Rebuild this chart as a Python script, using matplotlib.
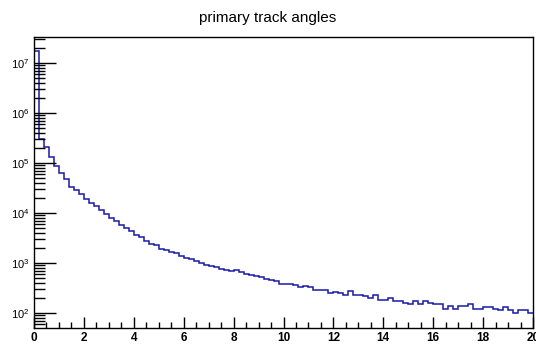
import numpy as np
import matplotlib
matplotlib.use("Agg")
import matplotlib.pyplot as plt
from matplotlib.ticker import LogLocator, MultipleLocator, NullFormatter, LogFormatterMathtext

plt.rcParams['font.family'] = ['Liberation Sans', 'DejaVu Sans']
plt.rcParams['mathtext.fontset'] = 'custom'
plt.rcParams['mathtext.rm'] = 'Liberation Sans'
plt.rcParams['mathtext.bf'] = 'Liberation Sans:bold'

title = "primary track angles"
x_min, x_max, n_bins = 0.0, 20.0, 100

# log10 of bin contents (100 bins of width 0.2)
log_counts = [
    7.23, 5.48, 5.31, 5.12, 4.95, 4.80, 4.67, 4.53, 4.45, 4.39,
    4.29, 4.21, 4.13, 4.06, 3.97, 3.91, 3.83, 3.76, 3.69, 3.64,
    3.56, 3.51, 3.43, 3.38, 3.35, 3.28, 3.26, 3.23, 3.19, 3.13,
    3.11, 3.07, 3.05, 3.01, 2.97, 2.95, 2.91, 2.89, 2.86, 2.84,
    2.85, 2.81, 2.78, 2.76, 2.74, 2.71, 2.68, 2.65, 2.63, 2.59,
    2.59, 2.59, 2.56, 2.51, 2.54, 2.51, 2.47, 2.47, 2.46, 2.41,
    2.43, 2.41, 2.36, 2.44, 2.35, 2.35, 2.33, 2.29, 2.35, 2.25,
    2.25, 2.29, 2.24, 2.23, 2.19, 2.17, 2.23, 2.17, 2.23, 2.19,
    2.17, 2.17, 2.09, 2.15, 2.08, 2.13, 2.15, 2.17, 2.08, 2.08,
    2.11, 2.11, 2.09, 2.06, 2.11, 2.06, 2.01, 2.06, 2.06, 2.01,
]
counts = np.round(10 ** np.array(log_counts))
edges = np.linspace(x_min, x_max, n_bins + 1)

fig = plt.figure(figsize=(5.36, 3.47), dpi=100)
ax = fig.add_axes([34/536, 1 - 328/347, (533-34)/536, (328-37)/347])

ax.stairs(counts, edges, baseline=None, color=(0.1, 0.1, 0.66), linewidth=1.1)

ax.set_yscale('log')
ax.set_xlim(x_min, x_max)
ax.set_ylim(10**1.7, 10**7.52)

ax.xaxis.set_major_locator(MultipleLocator(2))
ax.xaxis.set_minor_locator(MultipleLocator(0.5))
ax.yaxis.set_major_locator(LogLocator(base=10, numticks=20))
ax.yaxis.set_minor_locator(LogLocator(base=10, subs=np.arange(2, 10), numticks=20))
ax.yaxis.set_major_formatter(LogFormatterMathtext())
ax.yaxis.set_minor_formatter(NullFormatter())

ax.tick_params(axis='both', which='both', direction='in', top=False, right=False,
               width=1.0, color='black')
ax.tick_params(axis='y', which='major', length=16, labelsize=8, pad=3)
ax.tick_params(axis='y', which='minor', length=8)
ax.tick_params(axis='x', which='major', length=8, labelsize=8.5, pad=3)
ax.tick_params(axis='x', which='minor', length=4)
for lbl in ax.get_xticklabels():
    lbl.set_fontweight('bold')

for s in ax.spines.values():
    s.set_linewidth(1.0)

fig.text(0.5, 1 - 18/347, title, ha='center', va='center', fontsize=11)

fig.savefig("out.png", dpi=100)
